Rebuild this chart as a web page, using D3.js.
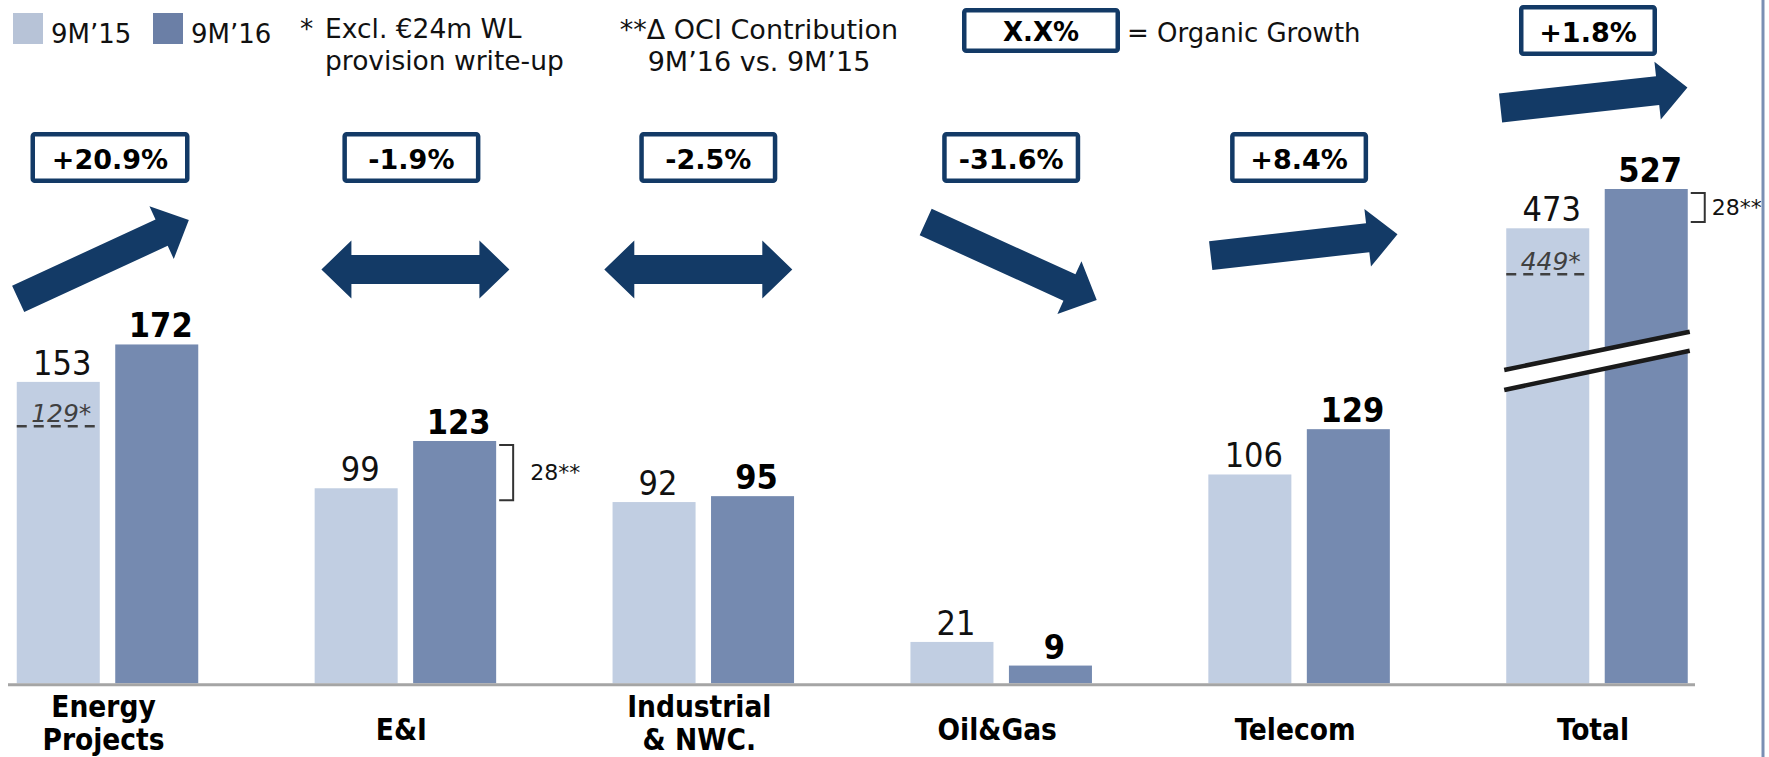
<!DOCTYPE html>
<html>
<head>
<meta charset="utf-8">
<script src="https://cdn.jsdelivr.net/npm/d3@7"></script>
<style>
  body { margin: 0; background: #fff; }
  svg { display: block; }
  text { font-family: "DejaVu Sans", Verdana, sans-serif; }
  text.narrow { font-family: "DejaVu Sans Condensed", "DejaVu Sans", sans-serif; font-stretch: condensed; }
</style>
</head>
<body>
<svg id="chart"></svg>
<script>
// ---- data ----
const categories = ["Energy Projects", "E&I", "Industrial & NWC.", "Oil&Gas", "Telecom", "Total"];
const categoryLines = [["Energy", "Projects"], ["E&I"], ["Industrial", "& NWC."], ["Oil&Gas"], ["Telecom"], ["Total"]];
const series = ["9M’15", "9M’16"];
const values15 = [153, 99, 92, 21, 106, 473];
const values16 = [172, 123, 95, 9, 129, 527];
const organicGrowth = ["+20.9%", "-1.9%", "-2.5%", "-31.6%", "+8.4%", "+1.8%"];
const exclWL = [{cat: "Energy Projects", value: 129, label: "129*"}, {cat: "Total", value: 449, label: "449*"}];
const ociDelta = [{cat: "E&I", value: 28, label: "28**"}, {cat: "Total", value: 28, label: "28**"}];

(function() {
    const width = 1769, height = 757
    const base = 683.3
    const navy = "#133a66"
    const light = "#c1cee2", dark = "#758ab0"

    const svg = d3.select("#chart")
        .attr("width", width)
        .attr("height", height)

    // scales
    const x = d3.scaleBand()
        .domain(categories)
        .range([16.75, 1687.75])
        .paddingInner(0.3907)
        .paddingOuter(0)
    const xs = d3.scaleBand()
        .domain(series)
        .range([0, x.bandwidth()])
        .paddingInner(0.157)
    const y = d3.scaleLinear().domain([0, 200]).range([base, base - 394])
    // the Total column sits on a broken axis
    const yTotal = d3.scaleLinear().domain([0, 449, 473, 527]).range([base, 274.3, 228.3, 189])
    const yOf = (cat) => cat === "Total" ? yTotal : y
    const center = (cat) => x(cat) + x.bandwidth() / 2

    const rows = categories.map((c, i) => ({cat: c, v15: values15[i], v16: values16[i], growth: organicGrowth[i], lines: categoryLines[i]}))

    // ---- bars ----
    const g = svg.append("g")
    rows.forEach((d) => {
        const ys = yOf(d.cat)
        g.append("rect")
            .attr("x", x(d.cat) + xs(series[0]))
            .attr("y", ys(d.v15))
            .attr("width", xs.bandwidth())
            .attr("height", base - ys(d.v15))
            .attr("fill", light)
        g.append("rect")
            .attr("x", x(d.cat) + xs(series[1]))
            .attr("y", ys(d.v16))
            .attr("width", xs.bandwidth())
            .attr("height", base - ys(d.v16))
            .attr("fill", dark)
    })

    // dashed "excl. WL" lines
    exclWL.forEach((d) => {
        const ly = yOf(d.cat)(d.value) - (d.cat === "Total" ? 0 : 3)
        const x0 = x(d.cat) + xs(series[0])
        g.append("line")
            .attr("x1", x0).attr("x2", x0 + xs.bandwidth())
            .attr("y1", ly).attr("y2", ly)
            .attr("stroke", "#404040")
            .attr("stroke-width", 2.5)
            .attr("stroke-dasharray", "10,7")
        g.append("text")
            .attr("x", x0 + xs.bandwidth() / 2 + 3)
            .attr("y", ly - 4.5)
            .attr("text-anchor", "middle")
            .attr("font-size", 25)
            .attr("font-style", "italic")
            .attr("fill", "#404040")
            .text(d.label)
    })

    // axis break on Total
    const bx0 = x("Total") - 2, bx1 = x("Total") + x.bandwidth() + 2
    g.append("polygon")
        .attr("points", [[bx0, 370], [bx1, 331.7], [bx1, 350.7], [bx0, 390]].join(" "))
        .attr("fill", "#fff")
    ;[[370, 331.7], [390, 350.7]].forEach((p) => {
        g.append("line")
            .attr("x1", bx0).attr("y1", p[0])
            .attr("x2", bx1).attr("y2", p[1])
            .attr("stroke", "#1a1a1a")
            .attr("stroke-width", 4.5)
    })

    // baseline
    svg.append("line")
        .attr("x1", 8).attr("x2", 1695)
        .attr("y1", base + 1.5).attr("y2", base + 1.5)
        .attr("stroke", "#a5a5a5")
        .attr("stroke-width", 3)

    // right frame line
    svg.append("line")
        .attr("x1", 1763).attr("x2", 1763)
        .attr("y1", 0).attr("y2", height)
        .attr("stroke", "#7a8fb4")
        .attr("stroke-width", 3)

    // value labels
    rows.forEach((d) => {
        const ys = yOf(d.cat)
        g.append("text")
            .attr("class", "narrow")
            .attr("x", x(d.cat) + xs(series[0]) + xs.bandwidth() / 2 + 4)
            .attr("y", ys(d.v15) - 7)
            .attr("text-anchor", "middle")
            .attr("font-size", 34)
            .attr("fill", "#111")
            .text(d.v15)
        g.append("text")
            .attr("class", "narrow")
            .attr("x", x(d.cat) + xs(series[1]) + xs.bandwidth() / 2 + 4)
            .attr("y", ys(d.v16) - 7)
            .attr("text-anchor", "middle")
            .attr("font-size", 34)
            .attr("font-weight", "bold")
            .attr("fill", "#000")
            .text(d.v16)
    })

    // OCI contribution brackets
    const annDx = {"E&I": 17, "Total": 7}
    ociDelta.forEach((d) => {
        const i = categories.indexOf(d.cat)
        const ys = yOf(d.cat)
        const x0 = x(d.cat) + xs(series[1]) + xs.bandwidth() + 3
        const x1 = x0 + 14
        const top = ys(values16[i]) + 4
        // the broken Total axis squeezes the bracket; reference draws it ~29px tall
        const bot = d.cat === "Total" ? top + 29 : ys(values16[i] - d.value) + 4
        g.append("path")
            .attr("d", `M${x0},${top}H${x1}V${bot}H${x0}`)
            .attr("fill", "none")
            .attr("stroke", "#333")
            .attr("stroke-width", 2)
        g.append("text")
            .attr("x", x1 + annDx[d.cat])
            .attr("y", (top + bot) / 2 + 7)
            .attr("font-size", 22)
            .attr("fill", "#111")
            .text(d.label)
    })

    // category labels
    rows.forEach((d) => {
        const t = svg.append("text")
            .attr("class", "narrow")
            .attr("text-anchor", "middle")
            .attr("font-size", 29.5)
            .attr("font-weight", "bold")
            .attr("fill", "#000")
        const ys = d.lines.length > 1 ? [717, 750] : [740]
        d.lines.forEach((l, k) => {
            t.append("tspan").attr("x", center(d.cat) - 4).attr("y", ys[k]).text(l)
        })
    })

    // growth arrows
    const arrowLayout = [
        {dx: -4, cy: 259.5, angle: -24.8, double: false},
        {dx: 10, cy: 269.5, angle: 0, double: true},
        {dx: -5, cy: 269.5, angle: 0, double: true},
        {dx: 10, cy: 261, angle: 24.5, double: false},
        {dx: 5, cy: 245, angle: -6.5, double: false},
        {dx: -3, cy: 97.7, angle: -6.3, double: false}
    ]
    const L = 188, sw = 29, hw = 58, hl = 30
    const arrowPts = (dbl) => {
        const a = L / 2
        if (!dbl) {
            return [[-a, -sw / 2], [a - hl, -sw / 2], [a - hl, -hw / 2], [a, 0], [a - hl, hw / 2], [a - hl, sw / 2], [-a, sw / 2]]
        }
        return [[-a, 0], [-a + hl, -hw / 2], [-a + hl, -sw / 2], [a - hl, -sw / 2], [a - hl, -hw / 2], [a, 0],
                [a - hl, hw / 2], [a - hl, sw / 2], [-a + hl, sw / 2], [-a + hl, hw / 2]]
    }
    rows.forEach((d, i) => {
        const s = arrowLayout[i]
        svg.append("polygon")
            .attr("points", arrowPts(s.double).join(" "))
            .attr("transform", `translate(${center(d.cat) + s.dx},${s.cy}) rotate(${s.angle})`)
            .attr("fill", navy)
    })

    // organic growth boxes
    const boxLayout = [
        {dx: 2.5, top: 132, w: 159}, {dx: 6, top: 132, w: 138}, {dx: 5, top: 132, w: 138},
        {dx: 10, top: 132, w: 138}, {dx: 0, top: 132, w: 138}, {dx: -9, top: 5, w: 138}
    ]
    const boxH = 51, bs = 4.5
    const drawBox = (cx, top, w, h, label) => {
        svg.append("rect")
            .attr("x", cx - w / 2 + bs / 2)
            .attr("y", top + bs / 2)
            .attr("width", w - bs)
            .attr("height", h - bs)
            .attr("rx", 2)
            .attr("fill", "#fff")
            .attr("stroke", navy)
            .attr("stroke-width", bs)
        svg.append("text")
            .attr("x", cx)
            .attr("y", top + h / 2 + 11)
            .attr("text-anchor", "middle")
            .attr("font-size", 27)
            .attr("font-weight", "bold")
            .attr("fill", "#000")
            .text(label)
    }
    rows.forEach((d, i) => {
        const b = boxLayout[i]
        drawBox(center(d.cat) + b.dx, b.top, b.w, boxH, d.growth)
    })

    // ---- header: legend + notes ----
    const legendColors = ["#b7c3d7", "#6b7fa6"]
    const legendX = [13, 153]
    series.forEach((s, i) => {
        svg.append("rect")
            .attr("x", legendX[i]).attr("y", 13)
            .attr("width", 30).attr("height", 31)
            .attr("fill", legendColors[i])
        svg.append("text")
            .attr("x", legendX[i] + 38).attr("y", 42.5)
            .attr("font-size", 26)
            .attr("fill", "#111")
            .text(s)
    })

    const note1 = svg.append("text").attr("font-size", 26.5).attr("fill", "#111")
    note1.append("tspan").attr("x", 300).attr("y", 37.5).text("*")
    note1.append("tspan").attr("x", 325).attr("y", 37.5).text("Excl. €24m WL")
    note1.append("tspan").attr("x", 325).attr("y", 69.5).text("provision write-up")

    const note2 = svg.append("text").attr("font-size", 27).attr("fill", "#111").attr("text-anchor", "middle")
    note2.append("tspan").attr("x", 759).attr("y", 39).text("**Δ OCI Contribution")
    note2.append("tspan").attr("x", 759).attr("y", 70.5).text("9M’16 vs. 9M’15")

    svg.append("rect")
        .attr("x", 962 + bs / 2).attr("y", 8 + bs / 2)
        .attr("width", 158 - bs).attr("height", 45 - bs)
        .attr("rx", 2)
        .attr("fill", "#fff")
        .attr("stroke", navy)
        .attr("stroke-width", bs)
    svg.append("text")
        .attr("x", 1041).attr("y", 40.5)
        .attr("text-anchor", "middle")
        .attr("font-size", 26)
        .attr("font-weight", "bold")
        .text("X.X%")
    svg.append("text")
        .attr("x", 1127).attr("y", 41.7)
        .attr("font-size", 26)
        .attr("fill", "#111")
        .text("= Organic Growth")
})();
</script>
</body>
</html>
